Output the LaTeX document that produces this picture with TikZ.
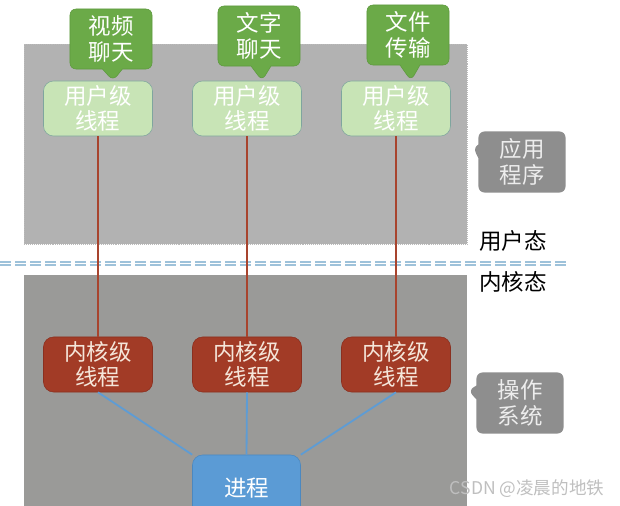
\documentclass[tikz,border=0pt]{standalone}
\usepackage{fontspec}
\setmainfont{Noto Sans CJK SC}
\usepackage{tikz}
\usetikzlibrary{positioning,shapes.callouts}
\definecolor{upfill}{HTML}{B2B2B2}
\definecolor{lowfill}{HTML}{9A9A98}
\definecolor{tipgreen}{HTML}{6BAA48}
\definecolor{tipline}{HTML}{5E9A3F}
\definecolor{uthfill}{HTML}{C8E4B6}
\definecolor{uthline}{HTML}{7FA59E}
\definecolor{kthfill}{HTML}{A23B26}
\definecolor{kthline}{HTML}{8A3020}
\definecolor{kthtext}{HTML}{F5E6DA}
\definecolor{procfill}{HTML}{5B9BD5}
\definecolor{procline}{HTML}{4B88C0}
\definecolor{sidefill}{HTML}{8E8E8E}
\definecolor{linkred}{HTML}{A8442E}
\definecolor{linkblue}{HTML}{5E9CD4}
\definecolor{sepblue}{HTML}{9EC2DA}
\newcommand{\boxfont}{\fontsize{16}{18}\selectfont}
\tikzset{
  zone/.style={inner sep=0pt, outer sep=0pt, minimum width=11.075cm},
  uthr/.style={draw=uthline, fill=uthfill, rounded corners=2.5mm,
               minimum width=2.725cm, minimum height=1.375cm,
               align=center, text=white, font=\boxfont, inner sep=2pt},
  kthr/.style={uthr, draw=kthline, fill=kthfill, text=kthtext},
  procbox/.style={uthr, draw=procline, fill=procfill, minimum width=2.7cm,
                  minimum height=1.65cm},
  tipbox/.style={rectangle callout, draw=tipline, fill=tipgreen,
                 rounded corners=1.5mm, callout pointer width=0.5cm,
                 minimum width=2.05cm, minimum height=1.5cm, inner sep=2pt,
                 align=center, text=white, font=\boxfont},
  sidebox/.style={rectangle callout, fill=sidefill, rounded corners=1.5mm,
                  callout pointer width=0.35cm, minimum width=2.175cm,
                  minimum height=1.525cm, align=center, text=white!93!black,
                  font=\boxfont},
  modelbl/.style={font=\boxfont, text=black},
  link/.style={draw=linkred, line width=1.7pt},
  tie/.style={draw=linkblue, line width=1.3pt},
  sepline/.style={draw=sepblue, double=white, line width=1pt,
                  double distance=1.3pt, dash pattern=on 0.275cm off 0.1cm},
}

\begin{document}
\begin{tikzpicture}[x=0.025cm, y=-0.025cm]
    \useasboundingbox (0,0) rectangle (620,506);
    % two spaces
    \node[zone, fill=upfill, draw=gray!55, densely dotted, minimum height=5cm]
      (userspace) at (245.5,144) {};
    \node[zone, fill=lowfill, minimum height=5.775cm] (kernelspace) at (245.5,390.5) {};
    \coordinate (sepL) at (0,263.5);
    \coordinate (sepR) at (567,263.5);
    \draw[sepline] (sepL) -- (sepR);
    % threads
    \node[uthr] (uthA) at (98,108.5) {用户级\\线程};
    \node[uthr] (uthB) at (247,108.5) {用户级\\线程};
    \node[uthr] (uthC) at (396,108.5) {用户级\\线程};
    \node[kthr] (kthA) at (98,364.5) {内核级\\线程};
    \node[kthr] (kthB) at (247,364.5) {内核级\\线程};
    \node[kthr] (kthC) at (396,364.5) {内核级\\线程};
    \node[procbox] (proc) at (246.5,488) {进程};
    \draw[link] (uthA.south) -- (kthA.north);
    \draw[link] (uthB.south) -- (kthB.north);
    \draw[link] (uthC.south) -- (kthC.north);
    \draw[tie] (kthA.south) -- (proc.north west);
    \draw[tie] (kthB.south) -- (proc.north);
    \draw[tie] (kthC.south) -- (proc.north east);
    % callouts
    \node[tipbox, callout absolute pointer={([xshift=0.375cm]uthA.north)}]
      (appA) at (111,39) {视频\\聊天};
    \node[tipbox, callout absolute pointer={([xshift=0.375cm]uthB.north)}]
      (appB) at (259,36) {文字\\聊天};
    \node[tipbox, callout absolute pointer={([xshift=0.375cm]uthC.north)}]
      (appC) at (408,35) {文件\\传输};
    \node[sidebox, callout absolute pointer={([xshift=0.15cm,yshift=-0.075cm]userspace.east)}]
      (apptag) at (522,162) {应用\\程序};
    \node[sidebox, callout absolute pointer={([xshift=0.03cm]kernelspace.east)}]
      (ostag) at (520,403) {操作\\系统};
    \node[modelbl] (umode) at (513,241) {用户态};
    \node[modelbl] (kmode) at (513,282) {内核态};
    \node[font=\fontsize{12.5}{14}\selectfont, text=gray!50] (mark) at (527,489)
      {CSDN @凌晨的地铁};
  \end{tikzpicture}
\end{document}
